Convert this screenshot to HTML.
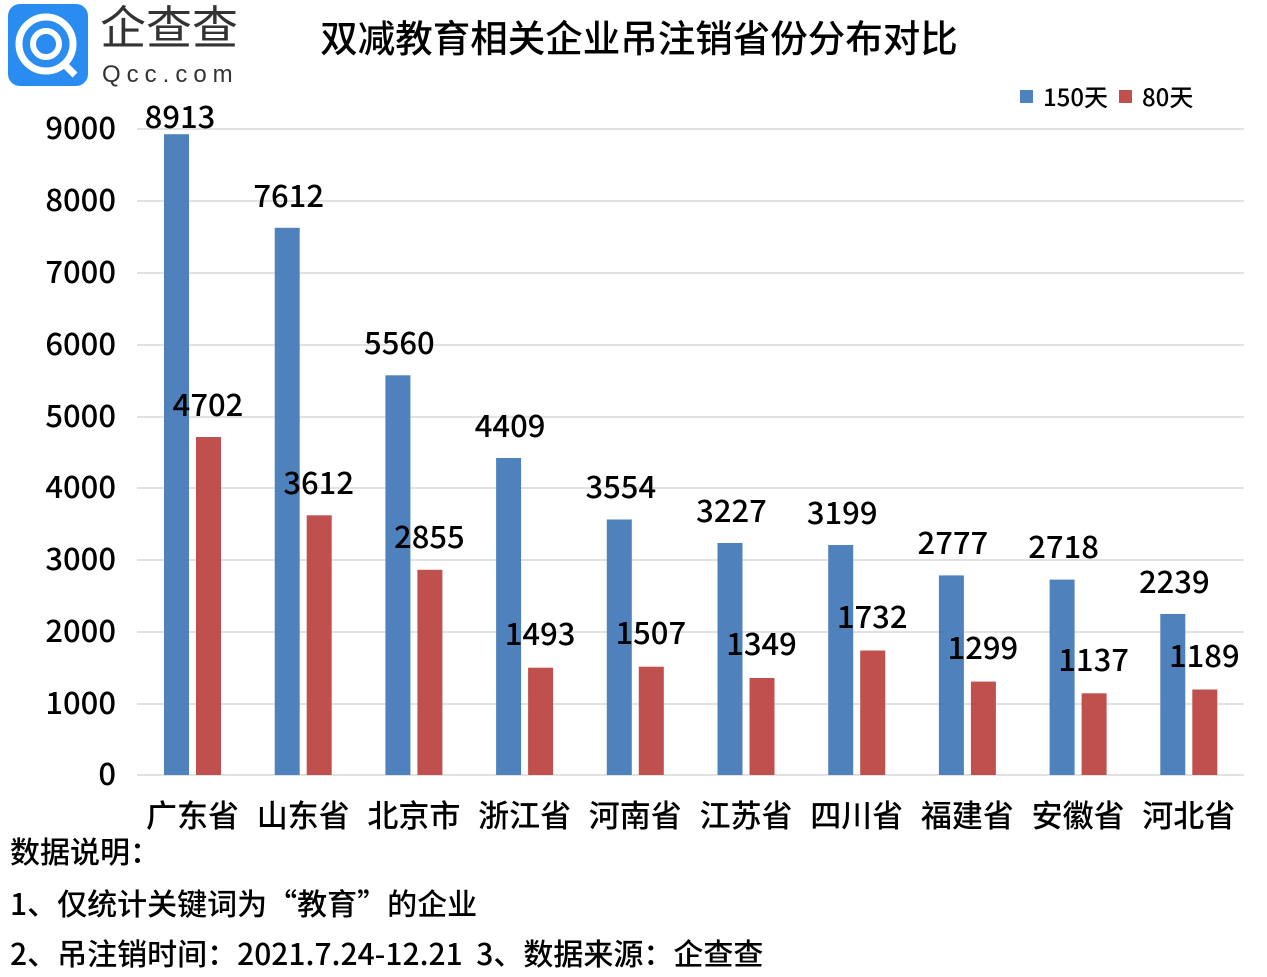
<!DOCTYPE html><html><head><meta charset="utf-8"><style>body{margin:0;background:#fff}svg{display:block}text{font-family:"Noto Sans CJK SC","Liberation Sans",sans-serif;fill:#000;font-weight:500}</style></head><body>
<svg width="1267" height="977" xmlns="http://www.w3.org/2000/svg">
<rect x="8" y="4" width="80" height="82" rx="12" fill="#2a8cf0"/>
<circle cx="46" cy="44" r="27" fill="none" stroke="#fff" stroke-width="7"/>
<circle cx="46" cy="44" r="13" fill="none" stroke="#fff" stroke-width="6"/>
<line x1="62" y1="62" x2="75" y2="75" stroke="#fff" stroke-width="7"/>
<text x="100" y="44" font-size="46" style="fill:#333;font-weight:400">企查查</text>
<text x="102" y="82" font-size="24" letter-spacing="6" style="fill:#333;font-family:'Liberation Sans',sans-serif">Qcc.com</text>
<text x="639" y="52" font-size="37.5" text-anchor="middle">双减教育相关企业吊注销省份分布对比</text>
<rect x="1020" y="90" width="13" height="13" fill="#4f81bd"/><text x="1043" y="106" font-size="24">150天</text>
<rect x="1119" y="90" width="13" height="13" fill="#c0504d"/><text x="1142" y="106" font-size="24">80天</text>
<g stroke="#d9d9d9" stroke-width="1.5">
<line x1="137" x2="1244" y1="129" y2="129"/><line x1="137" x2="1244" y1="201" y2="201"/><line x1="137" x2="1244" y1="273" y2="273"/><line x1="137" x2="1244" y1="345" y2="345"/><line x1="137" x2="1244" y1="417" y2="417"/><line x1="137" x2="1244" y1="488" y2="488"/><line x1="137" x2="1244" y1="560" y2="560"/><line x1="137" x2="1244" y1="632" y2="632"/><line x1="137" x2="1244" y1="704" y2="704"/><line x1="137" x2="1244" y1="775" y2="775"/>
</g>
<g font-size="31" text-anchor="end">
<text x="116" y="139">9000</text><text x="116" y="211">8000</text><text x="116" y="283">7000</text><text x="116" y="355">6000</text><text x="116" y="427">5000</text><text x="116" y="498">4000</text><text x="116" y="570">3000</text><text x="116" y="642">2000</text><text x="116" y="714">1000</text><text x="116" y="785">0</text>
</g>
<g fill="#4f81bd">
<rect x="164" y="134.2" width="25" height="640.8"/>
<rect x="274.7" y="227.8" width="25" height="547.2"/>
<rect x="385.4" y="375.3" width="25" height="399.7"/>
<rect x="496.1" y="458" width="25" height="317"/>
<rect x="606.8" y="519.5" width="25" height="255.5"/>
<rect x="717.5" y="543" width="25" height="232"/>
<rect x="828.2" y="545" width="25" height="230"/>
<rect x="938.9" y="575.4" width="25" height="199.6"/>
<rect x="1049.6" y="579.6" width="25" height="195.4"/>
<rect x="1160.3" y="614" width="25" height="161"/>
</g>
<g fill="#c0504d">
<rect x="196" y="437" width="25" height="338"/>
<rect x="306.7" y="515.3" width="25" height="259.7"/>
<rect x="417.4" y="569.8" width="25" height="205.2"/>
<rect x="528.1" y="667.7" width="25" height="107.3"/>
<rect x="638.8" y="666.7" width="25" height="108.3"/>
<rect x="749.5" y="678" width="25" height="97"/>
<rect x="860.2" y="650.5" width="25" height="124.5"/>
<rect x="970.9" y="681.6" width="25" height="93.4"/>
<rect x="1081.6" y="693.3" width="25" height="81.7"/>
<rect x="1192.3" y="689.5" width="25" height="85.5"/>
</g>
<g font-size="31" text-anchor="middle">
<text x="180" y="128">8913</text>
<text x="288.7" y="207">7612</text>
<text x="399.4" y="354">5560</text>
<text x="510.1" y="437">4409</text>
<text x="620.8" y="498">3554</text>
<text x="731.5" y="522">3227</text>
<text x="842.2" y="524">3199</text>
<text x="952.9" y="554">2777</text>
<text x="1063.6" y="558">2718</text>
<text x="1174.3" y="593">2239</text>
<text x="208" y="416">4702</text>
<text x="318.7" y="494">3612</text>
<text x="429.4" y="548">2855</text>
<text x="540.1" y="645">1493</text>
<text x="650.8" y="644">1507</text>
<text x="761.5" y="655">1349</text>
<text x="872.2" y="628">1732</text>
<text x="982.9" y="659">1299</text>
<text x="1093.6" y="671">1137</text>
<text x="1204.3" y="667">1189</text>
</g>
<g font-size="31" text-anchor="middle">
<text x="192.5" y="827">广东省</text><text x="303.2" y="827">山东省</text><text x="413.9" y="827">北京市</text><text x="524.6" y="827">浙江省</text><text x="635.3" y="827">河南省</text><text x="746" y="827">江苏省</text><text x="856.7" y="827">四川省</text><text x="967.4" y="827">福建省</text><text x="1078.1" y="827">安徽省</text><text x="1188.8" y="827">河北省</text>
</g>
<g font-size="30" style="font-weight:bold">
<text x="10" y="863">数据说明：</text>
<text x="10" y="915">1、仅统计关键词为“教育”的企业</text>
<text x="10" y="965" xml:space="preserve">2、吊注销时间：2021.7.24-12.21  3、数据来源：企查查</text>
</g>
</svg></body></html>
